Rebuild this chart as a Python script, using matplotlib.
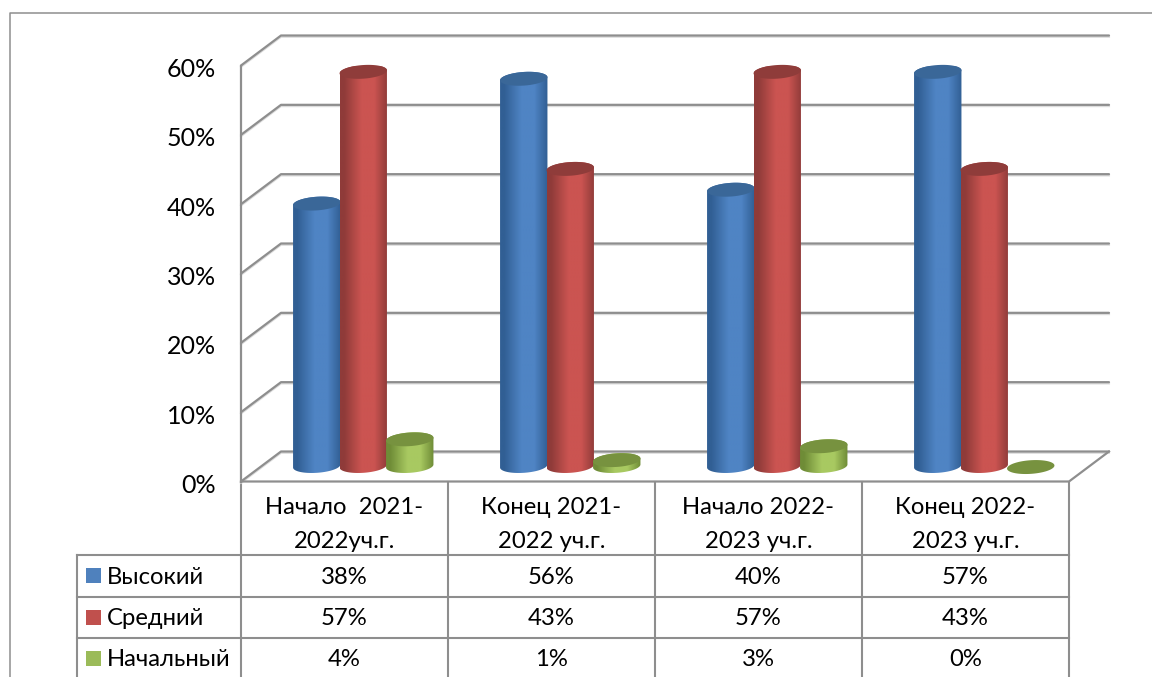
import numpy as np
import matplotlib
matplotlib.use("Agg")
import matplotlib.pyplot as plt
from matplotlib.patches import Polygon, Rectangle
from matplotlib.colors import LinearSegmentedColormap
from matplotlib.transforms import ScaledTranslation

categories = ["Начало  2021-\n2022уч.г.", "Конец 2021-\n2022 уч.г.", "Начало 2022-\n2023 уч.г.", "Конец 2022-\n2023 уч.г."]
series_names = ["Высокий", "Средний", "Начальный"]
vysokiy = [38, 56, 40, 57]
sredniy = [57, 43, 57, 43]
nachalny = [4, 1, 3, 0]
y_ticks = [0, 10, 20, 30, 40, 50, 60]
edge_cols = ["#315f94", "#8f3b39", "#6f8c37"]
mid_cols = ["#4f84c4", "#cb5451", "#a8c961"]
top_cols = ["#3a6798", "#8f3c3a", "#77923f"]
key_cols = ["#4f81bd", "#c0504d", "#9bbb59"]
GREY = "#8e8e8e"
SHADOW = "#dcdcdc"
plt.rcParams["font.family"] = ["Lato", "Open Sans", "DejaVu Sans"]
TXT = 17.2

W, H = 1152, 677
L, R, Y0, Y60 = 241, 1069, 481.5, 65.5
fig = plt.figure(figsize=(W / 100, H / 100), dpi=100, facecolor="white")

# page layer in pixels: frame, table and legend keys
bg = fig.add_axes([0, 0, 1, 1], zorder=0)
bg.set_xlim(0, W)
bg.set_ylim(H, 0)
bg.axis("off")
bg.plot([10, 10, W], [H, 13, 13], color=GREY, lw=1.1)
col_edges = [L + (R - L) * i / len(categories) for i in range(len(categories) + 1)]
row_lines = [555, 597, 638]
for x in col_edges:
    bg.plot([x, x], [482, H], color=GREY, lw=1.5)
bg.plot([77, 77], [555, H], color=GREY, lw=1.5)
for y in row_lines:
    bg.plot([77, R], [y, y], color=GREY, lw=1.5)
for i, c in enumerate(categories):
    a, b = c.split("\n")
    xc = (col_edges[i] + col_edges[i + 1]) / 2
    bg.text(xc, 508, a, ha="center", va="center", fontsize=TXT)
    bg.text(xc, 541, b, ha="center", va="center", fontsize=TXT)
rows = [vysokiy, sredniy, nachalny]
for r, (name, vals) in enumerate(zip(series_names, rows)):
    yc = (row_lines[r] + (row_lines[r + 1] if r < 2 else 679)) / 2
    bg.add_patch(Rectangle((86, yc - 8), 15, 15, facecolor=key_cols[r], edgecolor="none"))
    bg.text(107, yc + 1, name, ha="left", va="center", fontsize=TXT)
    for i, v in enumerate(vals):
        bg.text((col_edges[i] + col_edges[i + 1]) / 2, yc + 1, f"{v}%", ha="center", va="center", fontsize=TXT)

# chart layer: value scale 0-60 %, category scale 0-4
ax = fig.add_axes([L / W, (H - Y0) / H, (R - L) / W, (Y0 - Y60) / H], zorder=1)
ax.patch.set_alpha(0)
for s in ax.spines.values():
    s.set_visible(False)
ax.set_xticks([])
ax.set_yticks(y_ticks)
ax.set_yticklabels([f"{t}%" for t in y_ticks], fontsize=18)
ax.tick_params(axis="y", length=0, pad=18)
down = ScaledTranslation(0, -2 / 100, fig.dpi_scale_trans)
for lab in ax.get_yticklabels():
    lab.set_transform(lab.get_transform() + down)

px = len(categories) / (R - L)
py = 60 / (Y0 - Y60)
dx, dy = 40 * px, 30 * py
xmax = len(categories)

for t in y_ticks:
    xs = [0, dx, xmax + dx]
    ys = [t, t + dy, t + dy]
    ax.plot(xs, np.array(ys) - 1.3 * py, color=SHADOW, lw=1.5, clip_on=False, zorder=1)
    ax.plot(xs, ys, color=GREY, lw=1.6, clip_on=False, zorder=2, solid_capstyle="round")
ax.plot([0, 0], [0, 60], color=GREY, lw=1.6, clip_on=False, zorder=2)
ax.plot([0, xmax, xmax + dx], [0, 0, dy], color=GREY, lw=1.6, clip_on=False, zorder=2)

# cylinders
bar_w = 47.5 * px
bar_step = 46.5 * px
first = 52 * px
base = 15.5 * py
semi_h = 6.8 * py
tilt = np.deg2rad(4)
t = np.linspace(0, 2 * np.pi, 121)


def ellipse(cx, cy):
    ex = (bar_w / 2) / px * np.cos(t)
    ey = 6.8 * np.sin(t)
    return (cx + (ex * np.cos(tilt) - ey * np.sin(tilt)) * px,
            cy + (ex * np.sin(tilt) + ey * np.cos(tilt)) * py)


z = 5
for g in range(len(categories)):
    for s, vals in enumerate(rows):
        v = vals[g]
        x0 = g + first + s * bar_step
        cx = x0 + bar_w / 2
        top = base + v - 0.15
        bx, by = ellipse(cx, base)
        tx, ty = ellipse(cx, top)
        if v > 0:
            mask = (t >= np.pi)
            outline = np.r_[np.c_[bx[mask], by[mask]], np.c_[tx[~mask], ty[~mask]]]
            clip = Polygon(outline, closed=True, transform=ax.transData, facecolor="none", edgecolor="none")
            ax.add_patch(clip)
            cmap = LinearSegmentedColormap.from_list(
                "c", [(0, edge_cols[s]), (0.08, edge_cols[s]), (0.45, mid_cols[s]),
                      (0.72, mid_cols[s]), (1, edge_cols[s])])
            im = ax.imshow(np.linspace(0, 1, 64)[None, :], cmap=cmap, aspect="auto",
                           extent=[x0, x0 + bar_w, base - 2 * semi_h, top + 2 * semi_h],
                           zorder=z, interpolation="bilinear")
            im.set_clip_path(clip)
        ax.add_patch(Polygon(np.c_[tx, ty], closed=True, facecolor=top_cols[s], edgecolor="none",
                             zorder=z + 0.5, clip_on=False))
        z += 1

ax.set_xlim(0, xmax)
ax.set_ylim(0, 60)
fig.savefig("out.png", dpi=100)
